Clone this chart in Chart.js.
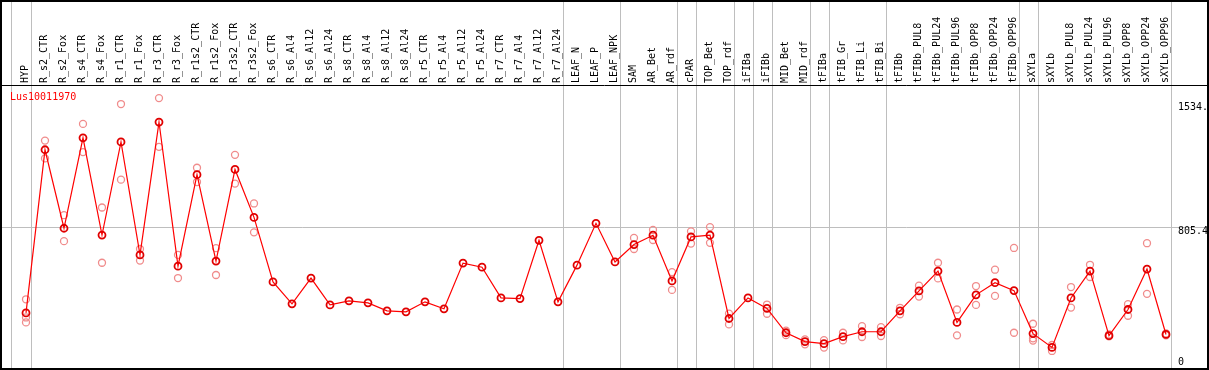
<!DOCTYPE html>
<html>
<head>
<meta charset="utf-8">
<script src="https://cdn.jsdelivr.net/npm/chart.js@4.4.0/dist/chart.umd.min.js"></script>
<style>
  body { margin: 0; background: #fff; }
  canvas { display: block; }
</style>
</head>
<body>
<canvas id="expr-chart" width="1209" height="370"></canvas>
<script>
const geneName = 'Lus10011970';

const samples = [
    'HYP', 'R_s2_CTR', 'R_s2_Fox', 'R_s4_CTR', 'R_s4_Fox', 'R_r1_CTR', 'R_r1_Fox', 'R_r3_CTR', 'R_r3_Fox',
    'R_r1s2_CTR', 'R_r1s2_Fox', 'R_r3s2_CTR', 'R_r3s2_Fox', 'R_s6_CTR', 'R_s6_Al4', 'R_s6_Al12', 'R_s6_Al24',
    'R_s8_CTR', 'R_s8_Al4', 'R_s8_Al12', 'R_s8_Al24', 'R_r5_CTR', 'R_r5_Al4', 'R_r5_Al12', 'R_r5_Al24',
    'R_r7_CTR', 'R_r7_Al4', 'R_r7_Al12', 'R_r7_Al24', 'LEAF_N', 'LEAF_P', 'LEAF_NPK', 'SAM', 'AR_Bet', 'AR_rdf',
    'cPAR', 'TOP_Bet', 'TOP_rdf', 'iFIBa', 'iFIBb', 'MID_Bet', 'MID_rdf', 'tFIBa', 'tFIB_Gr', 'tFIB_Li', 'tFIB_Bi',
    'tFIBb', 'tFIBb_PUL8', 'tFIBb_PUL24', 'tFIBb_PUL96', 'tFIBb_OPP8', 'tFIBb_OPP24', 'tFIBb_OPP96',
    'sXYLa', 'sXYLb', 'sXYLb_PUL8', 'sXYLb_PUL24', 'sXYLb_PUL96', 'sXYLb_OPP8', 'sXYLb_OPP24', 'sXYLb_OPP96'
];

// mean expression
const meanValues = [
    302, 1262, 800, 1332, 760, 1308, 643, 1425, 577,
    1115, 607, 1146, 864, 484, 355, 507, 349,
    373, 361, 314, 308, 367, 326, 595, 571,
    390, 386, 729, 367, 583, 829, 602, 704, 759, 490,
    749, 759, 269, 390, 328, 185, 133, 121, 162, 191, 191,
    314, 431, 548, 246, 408, 480, 433,
    180, 99, 390, 548, 168, 322, 560, 175
];

// replicates (null = hidden behind the mean point)
const repHigh = [
    382, 1316, 877, 1414, 922, 1531, 678, 1566, 643,
    1156, 683, 1232, 946, null, null, null, null,
    null, null, null, null, null, null, null, null,
    null, null, null, null, null, null, null, 743, 790, 542,
    782, 807, 298, null, 351, 197, 146, 142, 185, 224, 218,
    332, 462, 597, 322, 460, 556, 684,
    238, 113, 454, 585, 175, 353, 712, 181
];
const repLow = [
    246, 1211, 724, 1248, 597, 1086, 610, 1279, 507,
    1072, 525, 1063, 776, null, null, null, null,
    null, null, null, null, null, null, null, null,
    null, null, null, null, null, null, null, 678, 731, 437,
    710, 714, 234, null, 297, 171, 117, 98, 140, 160, 166,
    294, 398, 505, 170, 349, 402, 185,
    152, 78, 333, 513, 164, 285, 414, 170
];
const repExtra = [
    275, null, null, null, null, null, null, null, null,
    null, null, null, null, null, null, null, null,
    null, null, null, null, null, null, null, null,
    null, null, null, null, null, null, null, null, null, null,
    null, null, null, null, null, null, null, null, null, null, null,
    null, null, null, null, null, null, null,
    139, null, null, null, null, null, null, null
];

const yTicks = [0, 805.4, 1534];
const yTickLabels = ['0', '805.4', '1534.'];
// index of last sample in each group, gridline drawn after it
const groupEnds = [0, 28, 31, 34, 35, 37, 38, 39, 41, 42, 45, 52, 53, 60];

const monoFont = '10px "DejaVu Sans Mono", "Liberation Mono", monospace';

const framePlugin = {
    id: 'frame',
    beforeDatasetsDraw(chart) {
        const ctx = chart.ctx;
        const x = chart.scales.x;
        const y = chart.scales.y;
        const W = chart.width;
        const H = chart.height;
        const step = x.getPixelForValue(1) - x.getPixelForValue(0);
        ctx.save();
        ctx.strokeStyle = '#bebebe';
        ctx.lineWidth = 1;
        // vertical group lines
        const lines = [x.getPixelForValue(0) - 15.5];
        groupEnds.forEach((i) => lines.push(x.getPixelForValue(i) + step * 0.24));
        lines.forEach((px) => {
            px = Math.round(px) + 0.5;
            ctx.beginPath();
            ctx.moveTo(px, 0);
            ctx.lineTo(px, H);
            ctx.stroke();
        });
        // middle horizontal line
        const gy = Math.round(y.getPixelForValue(yTicks[1])) + 0.5;
        ctx.beginPath();
        ctx.moveTo(0, gy);
        ctx.lineTo(W, gy);
        ctx.stroke();

        // black frame
        ctx.strokeStyle = '#000';
        ctx.lineWidth = 2;
        ctx.strokeRect(1, 1, W - 2, H - 2);
        ctx.lineWidth = 1;
        ctx.beginPath();
        ctx.moveTo(0, 85.5);
        ctx.lineTo(W, 85.5);
        ctx.stroke();

        // sample labels (vertical)
        ctx.fillStyle = '#000';
        ctx.font = monoFont;
        ctx.textAlign = 'left';
        ctx.textBaseline = 'middle';
        samples.forEach((s, i) => {
            ctx.save();
            ctx.translate(x.getPixelForValue(i) - 1, 83);
            ctx.rotate(-Math.PI / 2);
            ctx.fillText(s, 0, 0);
            ctx.restore();
        });

        // y labels on the right
        ctx.textAlign = 'left';
        yTicks.forEach((t, i) => {
            let py = y.getPixelForValue(t) + 4;
            if (t === 0) py = 362;
            ctx.fillText(yTickLabels[i], 1178, py);
        });

        // gene name
        ctx.fillStyle = '#ff0000';
        ctx.fillText(geneName, 10, 97);
        ctx.restore();
    },
};

const repStyle = {
    showLine: false,
    pointRadius: 3.5,
    pointBorderWidth: 1.3,
    pointBorderColor: '#f08c8c',
    pointBackgroundColor: 'rgba(0,0,0,0)',
    clip: false,
};

const config = {
    type: 'line',
    data: {
        labels: samples,
        datasets: [
            {
                label: geneName,
                data: meanValues,
                borderColor: '#ff0000',
                borderWidth: 1.2,
                pointRadius: 3.5,
                pointBorderWidth: 1.8,
                pointBorderColor: '#e00000',
                pointBackgroundColor: 'rgba(0,0,0,0)',
                tension: 0,
                clip: false,
            },
            { label: 'rep high', data: repHigh, ...repStyle },
            { label: 'rep low', data: repLow, ...repStyle },
            { label: 'rep extra', data: repExtra, ...repStyle },
        ],
    },
    options: {
        responsive: false,
        animation: false,
        layout: {
            padding: { left: 26, right: 43, top: 85, bottom: 4 },
        },
        scales: {
            x: { display: false, offset: false },
            y: { display: false, min: 0, max: 1643 },
        },
        plugins: {
            legend: { display: false },
            title: { display: false },
            tooltip: { enabled: false },
        },
    },
    plugins: [framePlugin],
};

new Chart(document.getElementById('expr-chart'), config);
</script>
</body>
</html>
